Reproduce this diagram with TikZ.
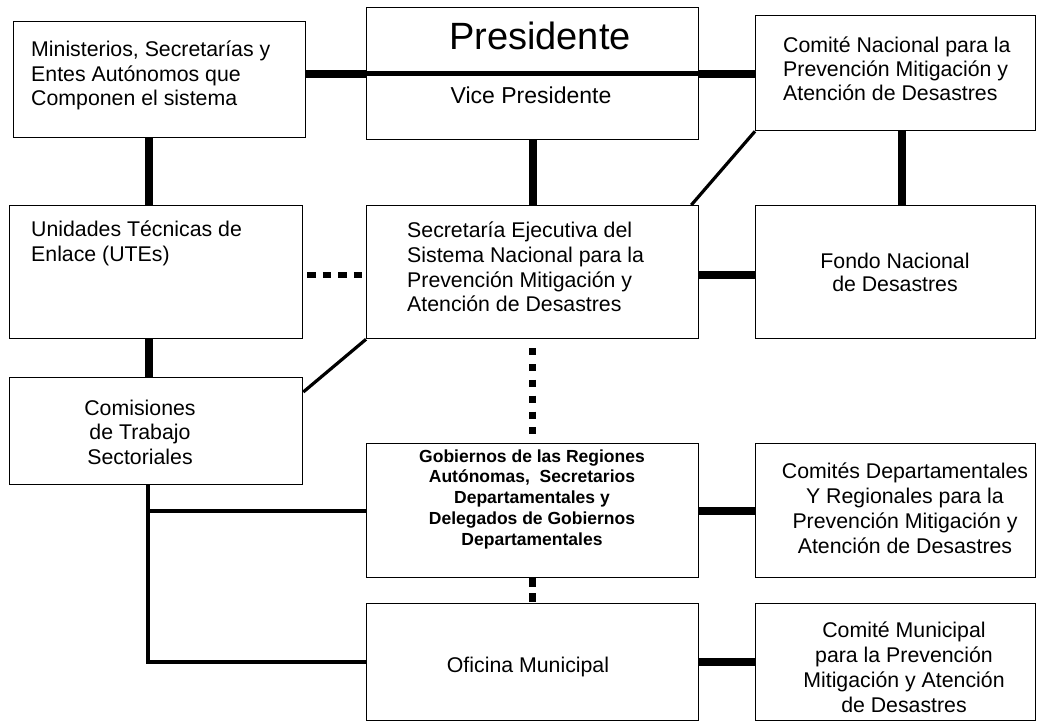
\documentclass[tikz,border=0pt]{standalone}
\usepackage{fontspec}
\setmainfont{Liberation Sans}
\begin{document}
\begin{tikzpicture}[x=1pt,y=-1pt,
  box/.style={draw, line width=1.3pt, inner sep=0pt, anchor=north west},
  txt/.style={inner sep=0pt, font=\fontsize{21.3}{24.5}\selectfont},
  thk/.style={line width=8pt},
  thn/.style={line width=3.2pt},
  dotl/.style={line width=7pt}]
\path[fill=white] (0,0) rectangle (1037,722);
\useasboundingbox (0,0) rectangle (1037,722);
% boxes
\node[box, minimum width=292pt, minimum height=116pt] (min) at (13,21) {};
\node[box, minimum width=332pt, minimum height=132pt] (pres) at (366,7) {};
\node[box, minimum width=280pt, minimum height=115pt] (com) at (755,15) {};
\node[box, minimum width=293pt, minimum height=133pt] (ute) at (9,205) {};
\node[box, minimum width=332pt, minimum height=133pt] (sec) at (366,205) {};
\node[box, minimum width=280pt, minimum height=133pt] (fon) at (755,205) {};
\node[box, minimum width=293pt, minimum height=107pt] (cms) at (9,377) {};
\node[box, minimum width=332pt, minimum height=134pt] (gob) at (366,443) {};
\node[box, minimum width=280pt, minimum height=134pt] (cdep) at (755,443) {};
\node[box, minimum width=332pt, minimum height=117pt] (ofi) at (366,603) {};
\node[box, minimum width=280pt, minimum height=117pt] (cmun) at (755,603) {};
% texts (base anchor = baseline of last line)
\node[txt, anchor=base west, align=left] (tmin) at (31,106) {Ministerios, Secretarías y\\Entes Autónomos que\\Componen el sistema};
\node[txt, anchor=base, font=\fontsize{38}{40}\selectfont] (tpres) at (540,50) {Presidente};
\node[txt, anchor=base, font=\fontsize{23}{26}\selectfont] (tvp) at (531,104) {Vice Presidente};
\node[txt, anchor=base west, align=left, font=\fontsize{21.3}{24}\selectfont] (tcom) at (783,101) {Comité Nacional para la\\Prevención Mitigación y\\Atención de Desastres};
\node[txt, anchor=base west, align=left, font=\fontsize{21.3}{25}\selectfont] (tute) at (31,262) {Unidades Técnicas de\\Enlace (UTEs)};
\node[txt, anchor=base west, align=left, font=\fontsize{21.3}{24.7}\selectfont] (tsec) at (407,312) {Secretaría Ejecutiva del\\Sistema Nacional para la\\Prevención Mitigación y\\Atención de Desastres};
\node[txt, anchor=base, align=center, font=\fontsize{21.3}{24}\selectfont] (tfon) at (895,292) {Fondo Nacional\\de Desastres};
\node[txt, anchor=base, align=center] (tcms) at (140,464) {Comisiones\\de Trabajo\\Sectoriales};
\node[txt, anchor=base, align=center, font=\fontsize{17.5}{20.75}\selectfont\bfseries] (tgob) at (532,545) {Gobiernos de las Regiones\\Autónomas,~ Secretarios\\Departamentales y\\Delegados de Gobiernos\\Departamentales};
\node[txt, anchor=base] (tofi) at (528,672) {Oficina Municipal};
\node[txt, anchor=base, align=center, font=\fontsize{21.3}{25}\selectfont] (tcdep) at (905,553) {Comités Departamentales\\Y Regionales para la\\Prevención Mitigación y\\Atención de Desastres};
\node[txt, anchor=base, align=center, font=\fontsize{21.3}{24.7}\selectfont] (tcmun) at (904,712) {Comité Municipal\\para la Prevención\\Mitigación y Atención\\de Desastres};
% helper coordinates
\coordinate (yP) at (0,74);
\coordinate (xL) at (149,0);
\coordinate (xR) at (902,0);
\coordinate (yS) at (0,275);
\coordinate (yC) at (0,392);
\coordinate (xT) at (148,0);
\coordinate (yG) at (0,511);
\coordinate (yO) at (0,662);
% connectors
\draw[thk] (min.east |- yP) -- (pres.west |- yP);
\draw[line width=5pt] (pres.west |- yP) -- (pres.east |- yP);
\draw[thk] (pres.east |- yP) -- (com.west |- yP);
\draw[thk] (min.south -| xL) -- (ute.north -| xL);
\draw[thk] (ute.south -| xL) -- (cms.north -| xL);
\draw[thk] (pres.south) -- (sec.north);
\draw[thk] (com.south -| xR) -- (fon.north -| xR);
\draw[thk] (sec.east |- yS) -- (fon.west |- yS);
\draw[dotl, line width=6.5pt, dash pattern=on 8.5pt off 7pt] ([xshift=4pt]ute.east |- yS) -- (sec.west |- yS);
\draw[dotl, dash pattern=on 7pt off 8.8pt] ([yshift=-9pt]sec.south) -- ([yshift=9pt]gob.north);
\draw[dotl, dash pattern=on 9pt off 6pt] (gob.south) -- (ofi.north);
\draw[thn] ([xshift=-8pt]sec.north east) -- (com.south west);
\draw[thn] (sec.south west) -- (cms.east |- yC);
\draw[thn] (cms.south -| xT) -- (xT |- yO) -- (ofi.west |- yO);
\draw[thn] (xT |- yG) -- (gob.west |- yG);
\draw[thk] (gob.east |- yG) -- (cdep.west |- yG);
\draw[thk] (ofi.east |- yO) -- (cmun.west |- yO);
\end{tikzpicture}
\end{document}
